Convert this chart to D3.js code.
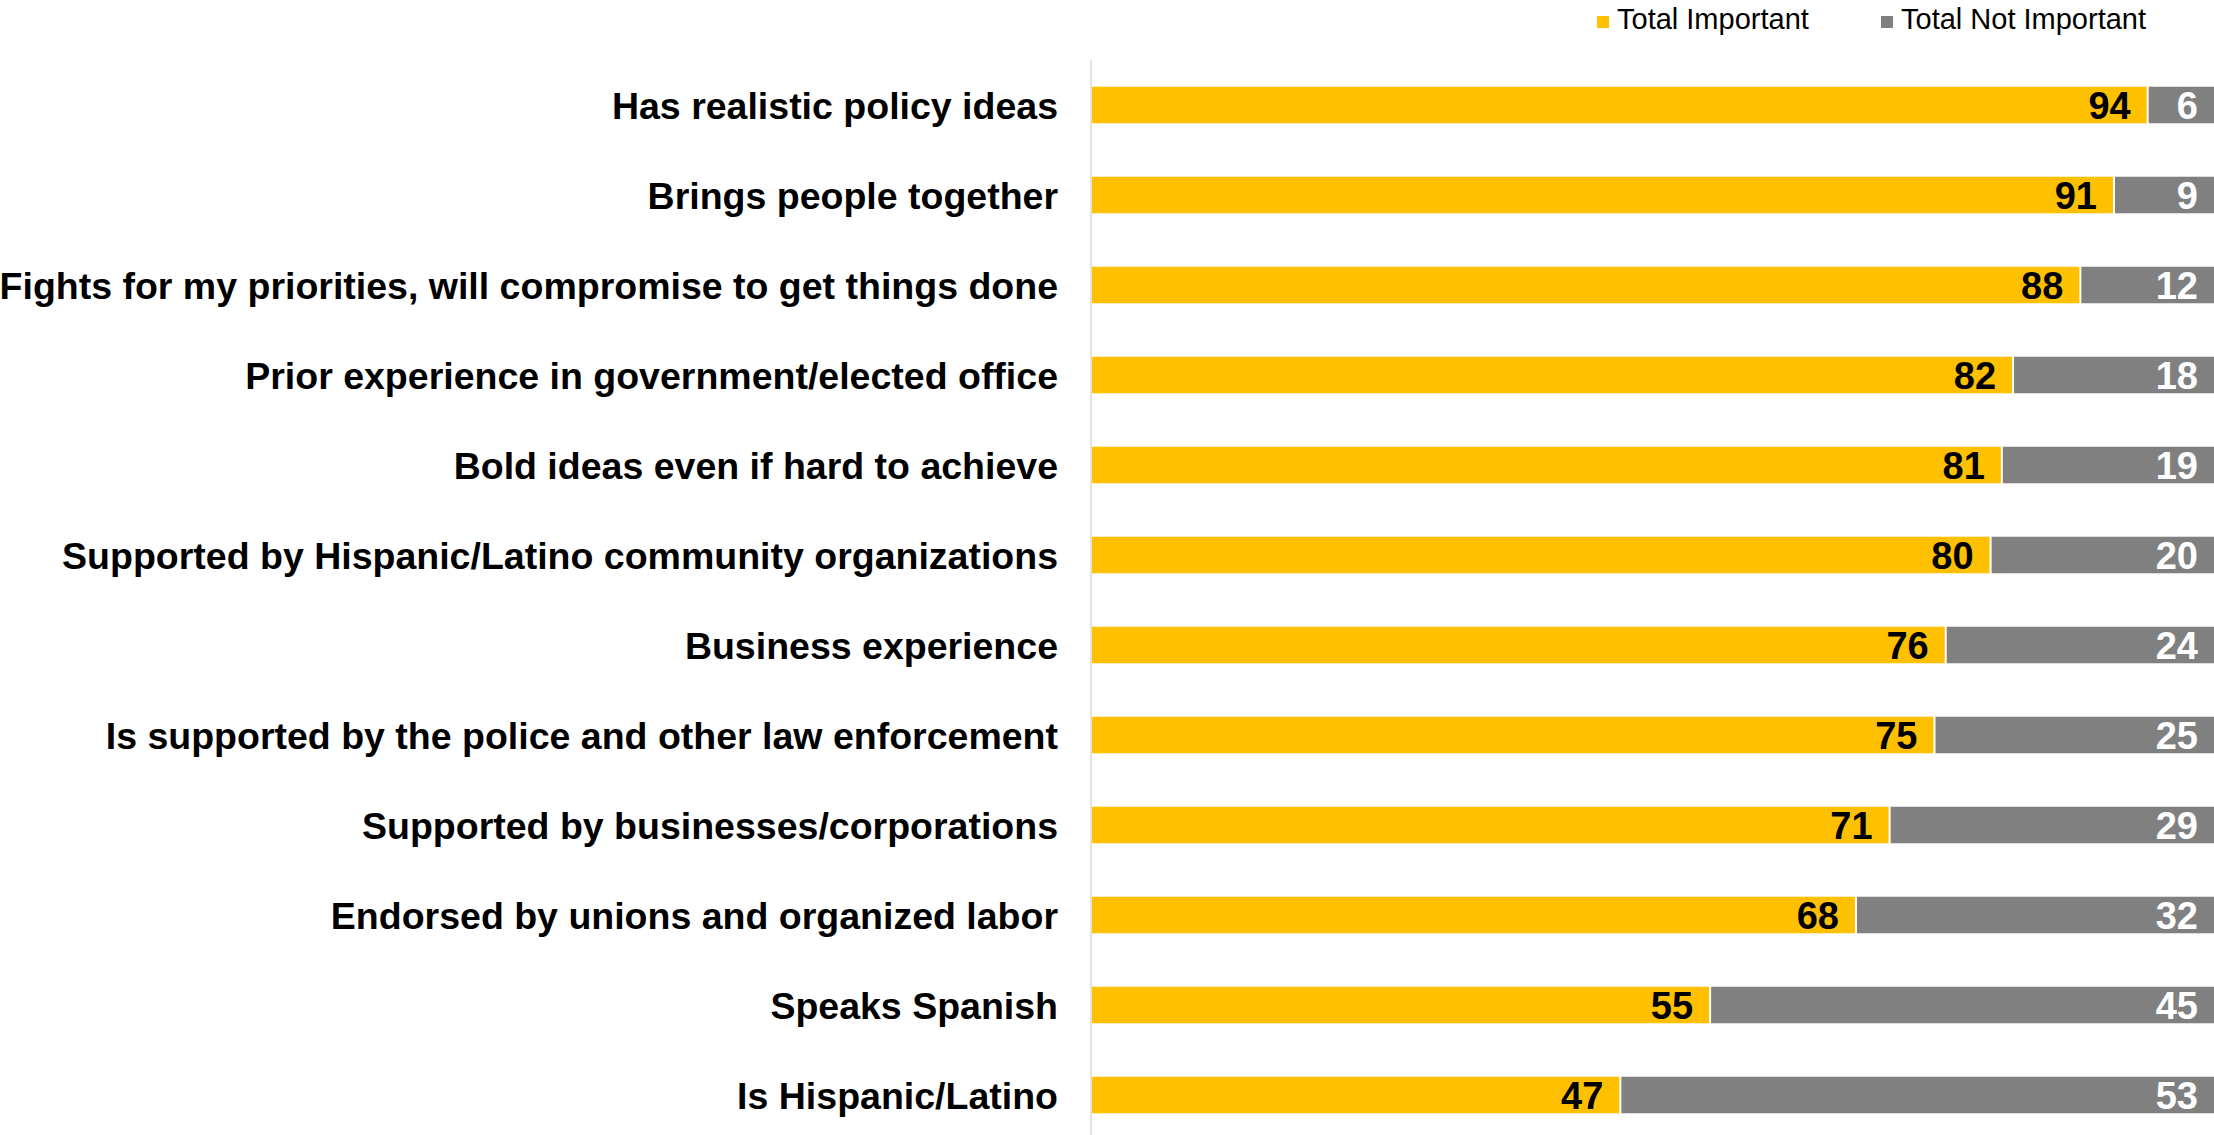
<!DOCTYPE html>
<html>
<head>
  <meta charset="utf-8">
  <title>Candidate qualities – Important vs Not Important</title>
  <script src="https://d3js.org/d3.v7.min.js"></script>
  <style>
    html, body {
      margin: 0;
      padding: 0;
      background: #fff;
    }
    svg {
      display: block;
      font-family: "Liberation Sans", Arial, sans-serif;
    }
    .cat-label {
      font-size: 37.5px;
      font-weight: bold;
      fill: #000;
    }
    .val-label {
      font-size: 38px;
      font-weight: bold;
    }
    .legend-text {
      font-size: 29px;
      fill: #000;
    }
  </style>
</head>
<body>
  <svg width="2214" height="1135"></svg>

  <script>
    // data
    const categories = [
      "Has realistic policy ideas",
      "Brings people together",
      "Fights for my priorities, will compromise to get things done",
      "Prior experience in government/elected office",
      "Bold ideas even if hard to achieve",
      "Supported by Hispanic/Latino community organizations",
      "Business experience",
      "Is supported by the police and other law enforcement",
      "Supported by businesses/corporations",
      "Endorsed by unions and organized labor",
      "Speaks Spanish",
      "Is Hispanic/Latino"
    ];
    const important = [94, 91, 88, 82, 81, 80, 76, 75, 71, 68, 55, 47];
    const notImportant = [6, 9, 12, 18, 19, 20, 24, 25, 29, 32, 45, 53];
    const seriesNames = ["Total Important", "Total Not Important"];
    const seriesColors = ["#FFC000", "#808080"];

    const width = 2214, height = 1135;
    const axisX = 1092;

    const svg = d3.select("svg");

    const x = d3.scaleLinear().domain([0, 100]).range([axisX, width]);
    const y = d3.scaleBand()
      .domain(categories)
      .range([60, 1140])
      .paddingInner(0.594)
      .paddingOuter(0.297);

    const rows = categories.map((c, i) => ({
      cat: c,
      imp: important[i],
      not: notImportant[i]
    }));

    // vertical axis line
    svg.append("line")
      .attr("x1", axisX - 1).attr("x2", axisX - 1)
      .attr("y1", 60).attr("y2", height)
      .attr("stroke", "#d9d9d9")
      .attr("stroke-width", 1.5);

    const row = svg.selectAll(".row")
      .data(rows)
      .enter().append("g")
      .attr("class", "row");

    // Total Important segment
    row.append("rect")
      .attr("x", x(0))
      .attr("y", d => y(d.cat))
      .attr("width", d => x(d.imp) - x(0))
      .attr("height", y.bandwidth())
      .attr("fill", seriesColors[0]);

    // Total Not Important segment
    row.append("rect")
      .attr("x", d => x(d.imp) + 2)
      .attr("y", d => y(d.cat))
      .attr("width", d => x(d.imp + d.not) - x(d.imp) - 2)
      .attr("height", y.bandwidth())
      .attr("fill", seriesColors[1]);

    row.append("text")
      .attr("class", "val-label")
      .attr("x", d => x(d.imp) - 16)
      .attr("y", d => y(d.cat) + y.bandwidth() / 2)
      .attr("dy", "0.36em")
      .attr("text-anchor", "end")
      .attr("fill", "#000")
      .text(d => d.imp);

    row.append("text")
      .attr("class", "val-label")
      .attr("x", d => x(d.imp + d.not) - 16)
      .attr("y", d => y(d.cat) + y.bandwidth() / 2)
      .attr("dy", "0.36em")
      .attr("text-anchor", "end")
      .attr("fill", "#fff")
      .text(d => d.not);

    // category labels
    row.append("text")
      .attr("class", "cat-label")
      .attr("x", 1058)
      .attr("y", d => y(d.cat) + y.bandwidth() / 2)
      .attr("dy", "0.36em")
      .attr("text-anchor", "end")
      .text(d => d.cat);

    // legend
    const legendX = [1597, 1881];
    const legend = svg.selectAll(".legend")
      .data(seriesNames)
      .enter().append("g")
      .attr("class", "legend")
      .attr("transform", (d, i) => `translate(${legendX[i]},16)`);

    legend.append("rect")
      .attr("width", 12).attr("height", 12)
      .attr("fill", (d, i) => seriesColors[i]);

    legend.append("text")
      .attr("class", "legend-text")
      .attr("x", 20)
      .attr("y", 13)
      .text(d => d);
  </script>
</body>
</html>
